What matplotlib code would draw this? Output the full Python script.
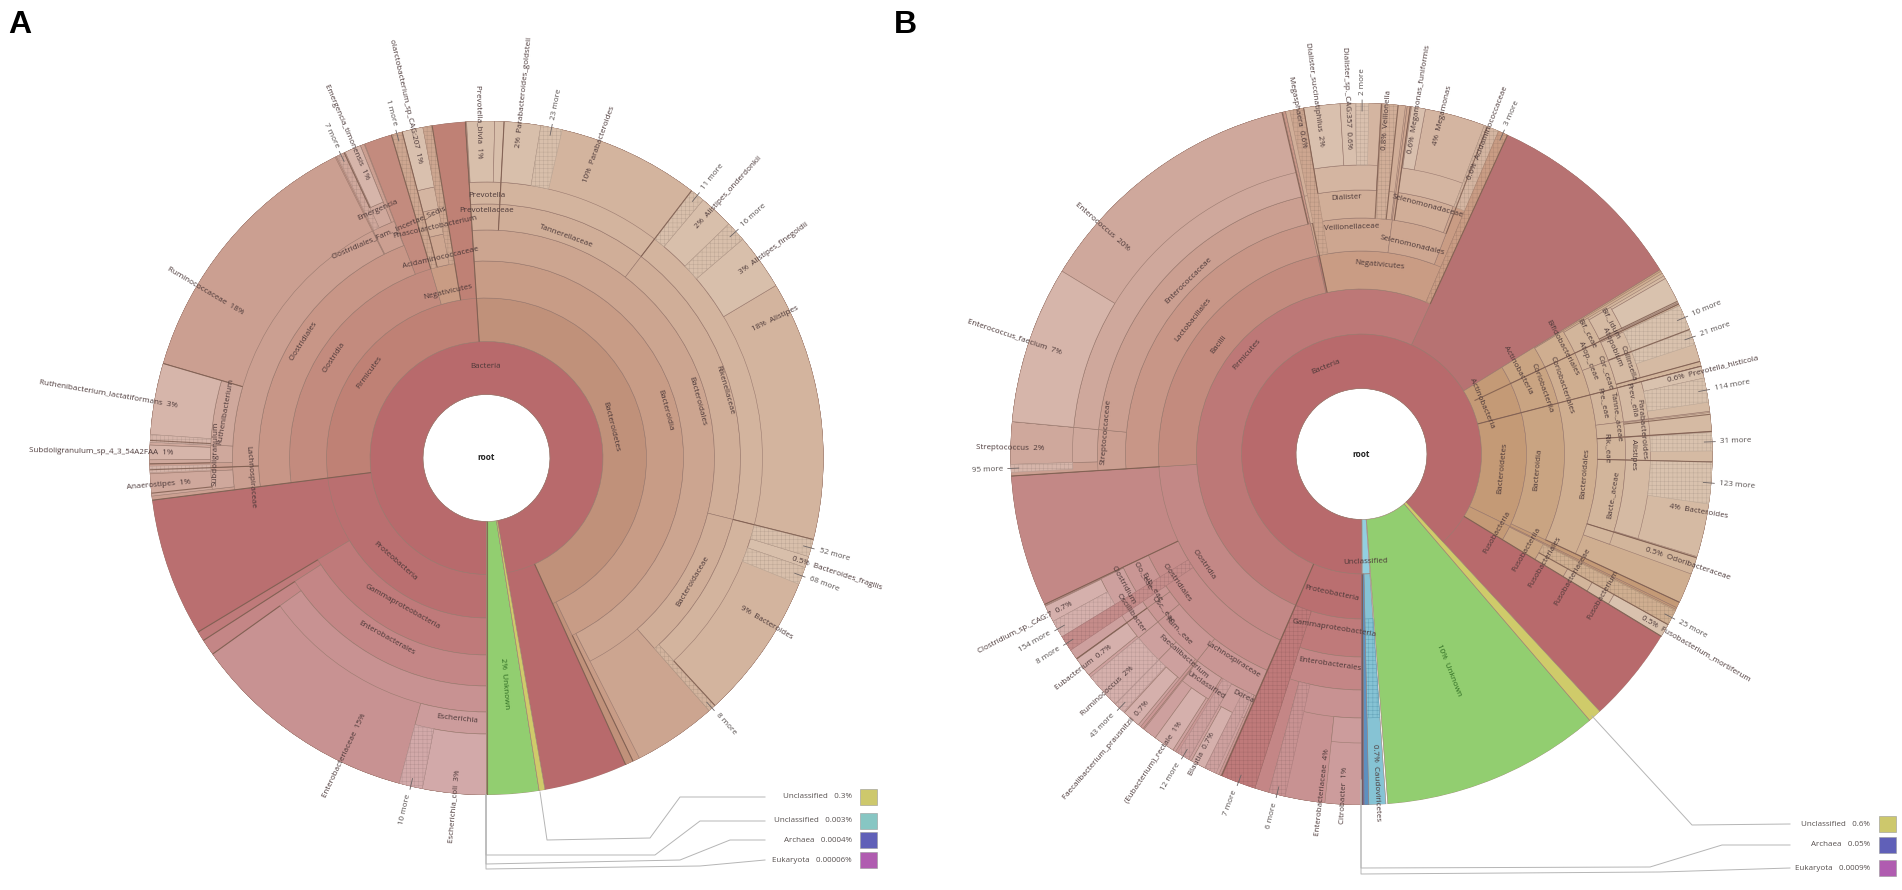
import numpy as np
import matplotlib
matplotlib.use('Agg')
import matplotlib.pyplot as plt
from matplotlib.colors import to_rgb

plt.rcParams['font.family'] = ['Open Sans', 'DejaVu Sans']
plt.rcParams['hatch.linewidth'] = 0.3

A_kingdom = [('Bacteria', 180, 530)]
A_phylum = [('Bacteroidetes', -3.6, 155.6), ('Firmicutes', 262.8, 356.4), ('Proteobacteria', 180, 262.8)]
A_class = [('Bacteroidia', -3.6, 154.2), ('Clostridia', 262.8, 343.6), ('Negativicutes', 343.6, 350.7),
           ('Gammaproteobacteria', 180, 238.9)]
A_order = [('Bacteroidales', -3.6, 153), ('Clostridiales', 262.8, 338.8), ('Selenomonadales', 345.5, 349.1),
           ('Enterobacterales', 180, 237.2)]
A_family = [('Prevotellaceae', -3.6, 3), ('Tannerellaceae', 3, 37.5), ('Rikenellaceae', 37.5, 104),
            ('Bacteroidaceae', 104, 138.6), ('Lachnospiraceae', 262.8, 268), ('Ruminococcaceae', 268, 333.3),
            ('Clostridiales_Fam', 333.5, 338.7), ('Acidaminococcaceae', 345.5, 349.1),
            ('Enterobacteriaceae', 180, 234.4)]
A_genus = [('Prevotella', -3.6, 3), ('Parabacteroides', 3, 37.5), ('Alistipes', 37.5, 104),
           ('Bacteroides', 104, 137.3), ('Anaerostipes', 263.5, 267.3), ('Subdoligranulum', 269, 272.7),
           ('Ruthenibacterium', 272.7, 286.3), ('Emergencia', 335, 338), ('Phascolarctobacterium', 345.5, 349.1),
           ('Escherichia', 180, 195)]
A_species = [('Prevotella_bivia', -3.4, 1.4), ('thin', 1.4, 3), ('Parabacteroides_goldsteii', 3, 9.3),
             ('Alistipes_onderdonkii', 40, 46), ('Alistipes_finegoldii', 49.5, 59.2),
             ('Bacteroides_fragilis', 107, 109), ('Subdoligranulum_sp', 269.7, 272.2),
             ('Ruthenibacterium_lactatiformans', 274, 286.3), ('Emergencia_timonensis', 335.2, 338),
             ('CAG207', 345.5, 349.1), ('Escherichia_coli', 180, 191)]
A_more = [(6, 9.3, 13, '23 more'), (6, 37.5, 40, '11 more'), (6, 46, 49.5, '16 more'),
          (6, 104, 107, '52 more'), (6, 109, 112, '68 more'), (5, 137.3, 138.6, '8 more'),
          (6, 191, 195, '10 more'), (6, 272.7, 274, ''), (5, 333.7, 335, '7 more'), (3, 343.6, 345.5, '1 more'),
          (3, 349.1, 350.7, ''), (6, 267.5, 268.6, '')]
A_other = [('Unknown', 171, 180), ('Unclassified', 170, 171)]
A_leaf = [('Ruminococcaceae', '18%', 300.7, 283), ('Ruthenibacterium_lactatiformans', '3%', 279.7, 313),
          ('Subdoligranulum_sp_4_3_54A2FAA', '1%', 271, 313), ('Anaerostipes', '1%', 265.3, 297),
          ('Enterobacteriaceae', '15%', 205.5, 284), ('Escherichia_coli', '3%', 185.3, 313),
          ('Unknown', '2%', 175.5, 200), ('Bacteroides', '9%', 120.4, 295), ('Bacteroides_fragilis', '0.5%', 108.2, 322),
          ('Alistipes', '18%', 64.2, 295), ('Alistipes_finegoldii', '3%', 53.9, 314),
          ('Alistipes_onderdonkii', '2%', 42.3, 312), ('Parabacteroides', '10%', 19.8, 293),
          ('Parabacteroides_goldsteii', '2%', 5.9, 312), ('Prevotella_bivia', '1%', 358.8, 300),
          ('olarctobacterium_sp_CAG:207', '1%', 347.2, 302), ('Emergencia_timonensis', '1%', 336.7, 303)]
A_ring = [('Bacteria', 359.5, 92), ('Firmicutes', 306, 145), ('Bacteroidetes', 76, 128), ('Proteobacteria', 221.3, 138),
          ('Clostridia', 303.3, 183), ('Bacteroidia', 75, 185), ('Gammaproteobacteria', 209.3, 171),
          ('Negativicutes', 347, 170), ('Clostridiales', 302.6, 217), ('Bacteroidales', 75, 218),
          ('Enterobacterales', 209, 206), ('Acidaminococcaceae', 347, 206), ('Rikenellaceae', 74, 248),
          ('Tannerellaceae', 19.8, 236), ('Prevotellaceae', 0, 247), ('Bacteroidaceae', 120.8, 240),
          ('Lachnospiraceae', 265.4, 237), ('Clostridiales_Fam._Incertae_Sedis', 336.7, 246),
          ('Phascolarctobacterium', 347.4, 237), ('Prevotella', 0, 262), ('Subdoligranulum', 271, 271),
          ('Ruthenibacterium', 280, 265), ('Emergencia', 336.4, 271), ('Escherichia', 186.4, 262)]
A_seam = [(180, 63.5, 337), (356.4, 116.5, 337), (262.8, 116.5, 337), (37.5, 254, 337), (104, 254, 337),
          (137.3, 276, 337), (3, 228, 337), (286.3, 254, 337), (234.4, 254, 337), (343.6, 197, 337),
          (345.5, 197, 337), (350.7, 160, 337), (238.9, 197, 337), (237.2, 228, 337), (155.6, 116.5, 337),
          (154.2, 197, 337), (264, 276, 337), (268, 228, 337), (273, 276, 337), (269, 276, 337), (335, 276, 337)]
A_legend_name = ['Unclassified', 'Unclassified', 'Archaea', 'Eukaryota']
A_legend_pct = ['0.3%', '0.003%', '0.0004%', '0.00006%']

# ---------- sample B
B_kingdom = [('Bacteria', 180, 497.2)]
B_phylum = [('Proteobacteria', 180, 203.6), ('Firmicutes', 203.6, 384.6), ('Actinobacteria', 58.3, 75.5),
            ('Bacteroidetes', 75.5, 116), ('Fusobacteria', 116, 121.3)]
B_class = [('Gammaproteobacteria', 180, 197.7), ('Clostridia', 203.6, 266.4), ('Bacilli', 266.4, 347.5),
           ('Negativicutes', 348, 383), ('Actinobacteria', 58.3, 64.7), ('Coriobacteriia', 64.7, 75.5),
           ('Bacteroidia', 75.5, 115), ('Fusobacteriia', 116.3, 121.3)]
B_order = [('Enterobacterales', 180, 197.7), ('Clostridiales', 203.6, 244.6), ('Lactobacillales', 266.4, 347.5),
           ('Veillonellales', 347.5, 367.5), ('Selenomonadales', 367.5, 381), ('Bifidobacteriales', 58.6, 64.7),
           ('Coriobacteriales', 64.7, 75.5), ('Bacteroidales', 75.5, 115), ('Fusobacteriales', 116.6, 121.3)]
B_family = [('Enterobacteriaceae', 180, 195.3), ('Lachnospiraceae', 203.6, 218.5), ('Rum._eae', 218.5, 230.5),
            ('Eub._eae', 230.5, 234.3), ('Osc._eae', 234.3, 238), ('Clo._eae', 238, 244.6),
            ('Streptococcaceae', 266.4, 275.3), ('Enterococcaceae', 275.3, 347),
            ('Veillonellaceae', 347.5, 367.2), ('Selenomonadaceae', 368, 380.3),
            ('Bif._ceae', 59, 64.7), ('Atop._ceae', 64.7, 69.3), ('Cor._ceae', 69.3, 75.5),
            ('Pre._eae', 75.5, 83), ('Tanne._aceae', 83, 86.3), ('Rik._eae', 86.3, 91.3),
            ('Bacte._aceae', 91.3, 107.2), ('Odoribacteraceae', 107.2, 110), ('Fusobacteriaceae', 117, 121.3)]
B_genus = [('Citrobacter', 180, 186), ('Dorea', 204, 209.5), ('Unclassified', 212, 218.3),
           ('Faecalibacterium', 219, 224.6), ('Ruminococcus', 224.6, 230.5), ('Eubacterium', 230.5, 234.3),
           ('Oscillibacter', 234.3, 238), ('Clostridium', 238, 244.4), ('Streptococcus', 268.3, 275.3),
           ('Enterococcus', 275.3, 347), ('Dialister', 350.5, 363.2), ('Megamonas', 368, 380.5),
           ('Bif._idum', 59.5, 64.5), ('Atopobium', 65, 69.2), ('Collinsella', 69.3, 74.7),
           ('Prev._ella', 75.5, 83), ('Parabacteroides', 83.2, 86.3), ('Alistipes', 86.4, 91.3),
           ('Bacteroides', 91.3, 107), ('Fusobacterium', 117.5, 121.3)]
B_species = [('Clostridium_sp', 241.5, 244.3), ('Eubacterium', 231, 234.2), ('Faecalibacterium_prausnitzii', 219.5, 222.5),
             ('rectale', 212.5, 216), ('Blautia', 206.5, 209), ('Enterococcus_faecium', 275.3, 301.4),
             ('Dialister_succinatiphilus', 350.5, 356.5), ('Dialister_sp', 356.5, 359),
             ('Megamonas_funiformis', 368.2, 370.5), ('Bif', 60, 64.4), ('Prevotella_histicola', 75.5, 77.5),
             ('Fusobacterium_mortiferum', 119.1, 121.3)]
B_more = [(2, 197.7, 203.4, '7 more'), (4, 192.6, 195.3, '6 more'), (6, 238.6, 241.5, '154 more'),
          (3, 236, 238.6, '8 more'), (6, 222.7, 224.5, '43 more'), (6, 224.6, 230.5, ''),
          (5, 209.5, 211.6, '12 more'), (5, 204.5, 206.5, ''), (6, 267, 268.3, '95 more'),
          (6, 359, 361.2, '2 more'), (3, 348.2, 350.5, ''), (4, 363.5, 366, ''), (5, 380.5, 383, ''),
          (2, 383, 384.6, '3 more'), (6, 65, 69.2, '10 more'), (6, 69.3, 71.8, '21 more'),
          (6, 77.5, 81.5, '114 more'), (6, 86.5, 89.5, '31 more'), (6, 91.3, 98.2, '123 more'),
          (3, 116.5, 119.1, '25 more')]
B_other = [('Unknown', 175.7, 139.4), ('Unclassified', 137.2, 139.4)]
B_virus_rim = ['Unclassified', 176, 179.6]
B_leaf = [('Enterococcus', '20%', 311.2, 310), ('Enterococcus_faecium', '7%', 288.6, 317), ('Streptococcus', '2%', 271, 317),
          ('Clostridium_sp._CAG:7', '0.7%', 242.7, 326), ('Eubacterium', '0.7%', 232.4, 316),
          ('Ruminococcus', '2%', 227, 313), ('Faecalibacterium_prausnitzii', '0.7%', 220.8, 327),
          ('(Eubacterium)_rectale', '1%', 214, 324), ('Blautia', '0.7%', 208, 316),
          ('Enterobacteriaceae', '4%', 186.5, 297), ('Citrobacter', '1%', 183, 313),
          ('Caudoviricetes', '0.7%', 177.5, 290), ('Unknown', '10%', 158, 205),
          ('Fusobacterium_mortiferum', '0.5%', 120.2, 325), ('Odoribacteraceae', '0.5%', 108.6, 300),
          ('Bacteroides', '4%', 99.6, 312), ('Prevotella_histicola', '0.6%', 76.3, 315),
          ('Acidaminococcaceae', '0.6%', 21.4, 295), ('Megamonas', '4%', 13.5, 318),
          ('Megamonas_funiformis', '0.6%', 9.3, 305), ('Veillonella', '0.8%', 4.4, 305),
          ('Dialister_sp._CAG:357', '0.6%', 357.6, 305), ('Dialister_succinatiphilus', '2%', 352.5, 310),
          ('Megasphaera', '0.6%', 349.3, 312)]
B_ring = [('Bacteria', 338, 94), ('Unclassified', 178, 108), ('Firmicutes', 311, 152), ('Proteobacteria', 192, 142),
          ('Actinobacteria', 67, 131), ('Bacteroidetes', 95.7, 142), ('Fusobacteria', 120, 156), ('Bacilli', 307.5, 180),
          ('Clostridia', 235, 193), ('Gammaproteobacteria', 189, 176), ('Negativicutes', 5.4, 190),
          ('Actinobacteria', 61.8, 178), ('Coriobacteriia', 69.9, 192), ('Bacteroidia', 95.2, 176.5),
          ('Fusobacteriia', 120.2, 191), ('Lactobacillales', 308.6, 215), ('Clostridiales', 235, 225),
          ('Enterobacterales', 188.5, 213), ('Veillonellaceae', 357.5, 227), ('Selenomonadales', 13.6, 215),
          ('Bifidobacteriales', 62, 227), ('Coriobacteriales', 71, 212), ('Bacteroidales', 95, 224),
          ('Fusobacteriales', 120.5, 213), ('Enterococcaceae', 315, 245), ('Streptococcaceae', 275, 257),
          ('Lachnospiraceae', 212, 243), ('Rum._eae', 226, 254), ('Osc._eae', 232, 252), ('Eub._eae', 237.5, 248),
          ('Clo._eae', 241, 250), ('Dialister', 356.7, 257), ('Selenomonadaceae', 15, 257), ('Bif._ceae', 61.8, 256),
          ('Atop._ceae', 67.5, 245.5), ('Cor._ceae', 71.4, 257), ('Pre._eae', 78, 247), ('Tanne._aceae', 81.8, 258),
          ('Rik._eae', 88.6, 245), ('Bacte._aceae', 99.3, 255), ('Fusobacteriaceae', 120.3, 244),
          ('Clostridium', 241.2, 272), ('Oscillibacter', 235.5, 280), ('Faecalibacterium', 221.2, 270),
          ('Unclassified', 214, 279), ('Dorea', 206, 270), ('Bif._idum', 62.2, 281), ('Atopobium', 67, 273),
          ('Collinsella', 71.2, 282), ('Prev._ella', 78.7, 276), ('Parabacteroides', 85, 281), ('Alistipes', 90, 272),
          ('Fusobacterium', 120.2, 280)]
B_seam = [(180, 120, 351), (266.4, 202, 351), (244.6, 203, 351), (203.5, 120, 351), (234.3, 264, 351), (346.9, 236, 351),
          (348, 165, 236), (64.7, 125, 351), (64.2, 264, 351), (69.2, 264, 351), (74.7, 264, 351), (75.5, 120, 351),
          (83.5, 264, 351), (86.3, 236, 351), (91.3, 236, 351), (107.2, 236, 351), (115, 203, 351), (119.1, 203, 351),
          (121.3, 120, 351), (24.6, 165, 351), (366, 236, 351), (368, 236, 351), (381, 236, 351), (363.3, 236, 351),
          (350.5, 264, 351)]
B_legend_name = ['Unclassified', 'Archaea', 'Eukaryota']
B_legend_pct = ['0.6%', '0.05%', '0.0009%']

# ---------- styles and layout
PAL = {
    'rose':  ['#b86a6c', '#ba6f70', '#bf7a7a', '#c48686', '#c89292', '#cc9c9c', '#d2a9a9'],
    'wedge': ['#b77272', '#ba6f70', '#bf7a7a', '#c48686', '#c89292', '#cc9c9c', '#d2a9a9'],
    'mauve': ['#b86a6c', '#bd7877', '#c38886', '#c58c8a', '#c99694', '#cda09e', '#d5b0ac'],
    'coral': ['#b86a6c', '#bf8175', '#c38b7e', '#c89687', '#cb9f91', '#cfa89c', '#d6b5aa'],
    'tan':   ['#b86a6c', '#c0917a', '#c89c86', '#cca590', '#d0ae98', '#d3b49e', '#d8bfab'],
    'sand':  ['#b86a6c', '#c49a76', '#c9a482', '#cfae90', '#d2b59b', '#d5baa3', '#d9c2ae'],
    'blush': ['#b86a6c', '#c99c84', '#c99c84', '#cda690', '#d1ae98', '#d4b5a1', '#d9c0ae'],
}
TEXT = '#4b3838'
EDGE = '#9b7b70'
SEAM = '#7b5a4c'
GREEN, YELLOW = '#92ce70', '#cfcb6a'


def family_a(depth, mid):
    m = mid % 360
    if depth == 1:
        return 'rose'
    if 180 <= m < 262.8:
        return 'rose'
    if 262.8 <= m < 356.4:
        if m > 350.7:
            return 'mauve'
        if 343.6 <= m <= 350.7 and depth >= 3:
            return 'blush'
        if m > 338 and depth == 3:
            return 'mauve'
        return 'coral'
    return 'tan'


def family_b(depth, mid):
    m = mid % 360
    if depth == 1:
        return 'wedge' if 24 < m < 59 else 'rose'
    if 180 <= m < 204:
        return 'rose'
    if 204 <= m < 266.4:
        return 'mauve'
    if 266.4 <= m < 347:
        return 'mauve' if depth == 2 else 'coral'
    if depth == 2 and m >= 347:
        return 'mauve'
    if m >= 347 or m < 25:
        return 'blush'
    return 'sand'


def arc(ax, start, end, r0, r1, color, hatch=None, lw=0.4, edge=EDGE, z=2):
    ax.bar(np.deg2rad((start + end) / 2), r1 - r0, width=np.deg2rad(end - start), bottom=r0,
           color=color, edgecolor=edge, linewidth=lw, hatch=hatch, zorder=z)


def shade(color, k=0.86):
    return tuple(c * k for c in to_rgb(color))


def tangent(theta):
    t = theta % 360
    return 180 - t if 90 < t < 270 else -t


def sunburst(ax, radii, ranks, mores, leaves, rings, seams, family, others):
    R = radii[-1]
    ax.set_theta_zero_location('N')
    ax.set_theta_direction(-1)
    ax.set_ylim(0, R)
    ax.axis('off')
    for depth, rows in enumerate(ranks, start=1):
        for _, a, b in rows:
            face = PAL[family(depth, (a + b) / 2)][depth - 1]
            arc(ax, a, b, radii[depth - 1], R, face, z=1.5 + depth * 0.01)
            arc(ax, a, b, radii[depth - 1], radii[depth], face, z=2 + depth * 0.01)
    # pieces of a node that are not split further run out to the rim in the node's own colour
    if family is family_b:
        arc(ax, 24.6, 58.3, radii[1], R, PAL['wedge'][0], z=1.9)
    for d, a, b, label in mores:
        face = PAL[family(d, (a + b) / 2)][min(d, 6)]
        arc(ax, a, b, radii[d], R, face, hatch='++++', edge=shade(face), z=2.3)
        if label:
            mid = (a + b) / 2
            t = np.deg2rad(mid)
            ax.plot([t, t], [R - 8, R + 3], color='#6c6464', lw=0.6, clip_on=False, zorder=4)
            m = mid % 360
            right = m < 180
            ax.text(t, R + 8, label, rotation=90 - m if right else 270 - m, rotation_mode='anchor',
                    ha='left' if right else 'right', va='center', fontsize=5.8, color='#57504f', zorder=6)
    for name, a, b in others:
        lo, hi = min(a, b), max(a, b)
        arc(ax, lo, hi, radii[0], R, GREEN if name == 'Unknown' else YELLOW, z=2.4)
    for theta, r0, r1 in seams:
        t = np.deg2rad(theta)
        ax.plot([t, t], [r0, r1], color=SEAM, lw=0.8, alpha=0.8, zorder=3, solid_capstyle='butt')
    for name, pct, theta, r in leaves:
        m = theta % 360
        right = m < 180
        text = f'{pct}  {name}' if right else f'{name}  {pct}'
        color = '#2e6b22' if name == 'Unknown' else TEXT
        ax.text(np.deg2rad(m), r, text, rotation=90 - m if right else 270 - m, rotation_mode='anchor',
                ha='left' if right else 'right', va='center', fontsize=5.8, color=color, zorder=6)
    for name, theta, r in rings:
        ax.text(np.deg2rad(theta), r, name, rotation=tangent(theta), rotation_mode='anchor',
                ha='center', va='center', fontsize=5.8, color=TEXT, zorder=6)
    ax.text(0, 0, 'root', ha='center', va='center', fontsize=6, fontweight='bold', color='#222222', zorder=6)


W, H = 1902, 890
fig = plt.figure(figsize=(W / 100, H / 100), dpi=100, facecolor='white')


def disc_axes(cx, cy, R):
    return fig.add_axes([(cx - R) / W, 1 - (cy + R) / H, 2 * R / W, 2 * R / H], projection='polar')


axA = disc_axes(486.5, 458, 337)
sunburst(axA, [63.5, 116.5, 160, 197, 228, 254, 276, 337],
         [A_kingdom, A_phylum, A_class, A_order, A_family, A_genus, A_species],
         A_more, A_leaf, A_ring, A_seam, family_a, A_other)

axB = disc_axes(1361.5, 454, 351)
radB = [65.5, 120, 165, 203, 236, 264, 289, 351]
sunburst(axB, radB,
         [B_kingdom, B_phylum, B_class, B_order, B_family, B_genus, B_species],
         B_more, B_leaf, B_ring, B_seam, family_b, B_other)
_, va, vb = B_virus_rim
arc(axB, va, vb, radB[0], radB[1], '#93cfe0', z=2.5)
arc(axB, va, vb, radB[1], radB[-1], '#86c3d4', z=2.5)
arc(axB, va, vb, radB[2], radB[5], '#86c3d4', hatch='++++', edge='#5f9fb5', z=2.6)
arc(axB, 178.8, vb, radB[1], radB[-1], '#5d90c0', z=2.7)
arc(axB, vb, 180, radB[1], radB[-1], '#5a5aa8', z=2.7)

# overlay in pixel coordinates: panel letters and the small-share legends
ov = fig.add_axes([0, 0, 1, 1], zorder=10)
ov.set_xlim(0, W)
ov.set_ylim(H, 0)
ov.axis('off')
ov.patch.set_alpha(0)
ov.text(8, 33, 'A', fontsize=23, fontweight='bold', family='Liberation Sans', color='black')
ov.text(894, 33, 'B', fontsize=23, fontweight='bold', family='Liberation Sans', color='black')

A_rows = [797, 821, 840, 860]
A_swatch = ['#cdc86c', '#87c6c3', '#6060b8', '#b05cb0']
A_paths = [[(540, 792), (547, 840), (650, 838), (680, 797), (765, 797)],
           [(486, 795), (486, 855), (655, 855), (700, 821), (765, 821)],
           [(486, 795), (486, 864), (680, 860), (730, 840), (765, 840)],
           [(486, 795), (486, 869), (700, 866), (765, 860)]]
for y, name, pct, c, path in zip(A_rows, A_legend_name, A_legend_pct, A_swatch, A_paths):
    ov.plot(*zip(*path), color='#b5b5b5', lw=0.7)
    ov.text(852, y, f'{name}   {pct}', ha='right', va='center', fontsize=5.8, color='#57504f')
    ov.add_patch(plt.Rectangle((860, y - 8), 17, 16, facecolor=c, edgecolor='#999999', linewidth=0.4))

B_rows = [824, 845, 868]
B_swatch = ['#cdc86c', '#6060b8', '#b05cb0']
B_paths = [[(1592, 716), (1692, 825), (1790, 824)],
           [(1361, 780), (1361, 868), (1650, 867), (1722, 845), (1790, 845)],
           [(1361, 780), (1361, 874), (1660, 872), (1790, 868)]]
for y, name, pct, c, path in zip(B_rows, B_legend_name, B_legend_pct, B_swatch, B_paths):
    ov.plot(*zip(*path), color='#b5b5b5', lw=0.7)
    ov.text(1870, y, f'{name}   {pct}', ha='right', va='center', fontsize=5.8, color='#57504f')
    ov.add_patch(plt.Rectangle((1879, y - 8), 17, 16, facecolor=c, edgecolor='#999999', linewidth=0.4))

fig.savefig('out.png', dpi=100)
